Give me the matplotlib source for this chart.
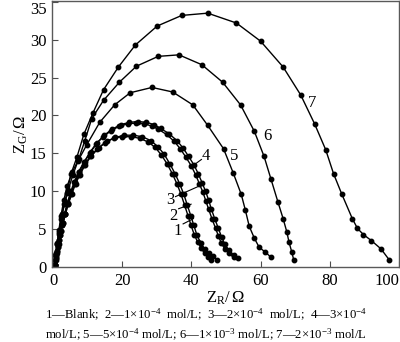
import matplotlib

matplotlib.use("Agg")
import matplotlib.pyplot as plt

plt.rcParams["font.family"] = ["Liberation Serif", "DejaVu Serif"]
plt.rcParams["mathtext.fontset"] = "custom"
plt.rcParams["mathtext.rm"] = "Liberation Serif"
plt.rcParams["mathtext.it"] = "Liberation Serif:italic"

# ---- data (Z_R, Z_G in ohm) ----
x1 = [0.5, 0.7, 1.0, 1.3, 1.7, 2.2, 2.8, 3.5, 4.3, 5.2, 6.3, 7.5, 9.0, 10.8, 12.8,
      15.0, 17.5, 20.0, 22.5, 25.0, 27.5, 29.5, 31.3, 33.0, 34.5, 35.8, 37.0, 38.0,
      39.0, 39.9, 40.8, 41.8, 42.8, 43.8, 44.8, 45.8]
y1 = [0.3, 1.0, 1.8, 2.7, 3.6, 4.7, 5.8, 7.0, 8.3, 9.6, 11.0, 12.2, 13.5, 14.6, 15.6,
      16.4, 17.0, 17.2, 17.2, 17.0, 16.5, 15.8, 14.8, 13.6, 12.3, 11.0, 9.6, 8.2,
      6.8, 5.5, 4.3, 3.3, 2.5, 1.8, 1.3, 0.9]

x2 = [0.6, 0.8, 1.1, 1.4, 1.8, 2.3, 2.9, 3.6, 4.4, 5.4, 6.5, 7.8, 9.3, 11.1, 13.2,
      15.5, 18.0, 20.6, 23.2, 25.8, 28.2, 30.3, 32.1, 33.8, 35.3, 36.6, 37.8, 38.8,
      39.8, 40.7, 41.6, 42.7, 43.8, 45.0, 46.2, 47.4]
y2 = [0.3, 1.0, 1.8, 2.7, 3.6, 4.7, 5.8, 7.0, 8.3, 9.6, 11.0, 12.2, 13.5, 14.7, 15.7,
      16.6, 17.1, 17.4, 17.4, 17.2, 16.7, 15.9, 14.9, 13.6, 12.3, 11.0, 9.6, 8.2,
      6.8, 5.5, 4.2, 3.2, 2.4, 1.8, 1.4, 1.0]

x3 = [0.5, 0.8, 1.1, 1.5, 2.0, 2.6, 3.3, 4.1, 5.0, 6.1, 7.4, 8.9, 10.6, 12.5, 14.5,
      16.8, 19.2, 21.6, 24.0, 26.4, 28.6, 30.4, 32.8, 35.0, 36.8, 38.4, 39.9, 41.2,
      42.3, 43.3, 44.2, 45.0, 46.0, 47.0, 47.8, 48.6, 49.6, 50.8, 52.2]
y3 = [0.3, 1.2, 2.1, 3.1, 4.3, 5.6, 7.0, 8.4, 9.8, 11.2, 12.6, 13.8, 15.1, 16.3, 17.2,
      18.0, 18.6, 18.9, 19.0, 18.9, 18.6, 18.2, 17.5, 16.6, 15.6, 14.5, 13.4, 12.2,
      11.0, 9.9, 8.7, 7.6, 6.3, 5.1, 4.1, 3.2, 2.4, 1.8, 1.3]

x4 = [0.6, 0.9, 1.2, 1.6, 2.1, 2.7, 3.4, 4.2, 5.2, 6.3, 7.6, 9.1, 10.9, 12.8, 14.8,
      17.1, 19.6, 22.1, 24.6, 27.0, 29.2, 31.1, 33.5, 35.8, 37.6, 39.2, 40.7, 42.0,
      43.1, 44.1, 45.0, 45.8, 46.8, 47.8, 48.7, 49.6, 50.8, 52.2, 53.6]
y4 = [0.3, 1.2, 2.1, 3.1, 4.3, 5.6, 7.0, 8.4, 9.8, 11.2, 12.6, 13.9, 15.2, 16.4, 17.4,
      18.2, 18.8, 19.1, 19.2, 19.1, 18.8, 18.3, 17.6, 16.7, 15.7, 14.6, 13.5, 12.3,
      11.1, 10.0, 8.8, 7.6, 6.3, 5.1, 4.0, 3.1, 2.2, 1.6, 1.2]

x5 = [0.5, 0.8, 1.2, 1.7, 2.4, 3.3, 4.4, 5.7, 7.2, 9.7, 13.5, 17.8, 22.3, 28.6, 34.6,
      40.4, 44.7, 49.3, 52.1, 54.4, 55.6, 56.7, 58.2, 59.6, 61.3, 63.0]
y5 = [0.3, 1.5, 3.0, 4.6, 6.4, 8.3, 10.2, 12.1, 14.0, 16.1, 19.1, 21.4, 23.0, 23.7, 23.1,
      21.4, 18.7, 15.6, 12.4, 9.6, 7.5, 5.4, 3.8, 2.6, 2.0, 1.3]

x6 = [0.5, 0.8, 1.2, 1.7, 2.3, 3.1, 4.1, 5.5, 7.4, 9.2, 11.2, 14.6, 19.2, 24.1, 30.4,
      36.4, 43.0, 49.0, 54.2, 58.2, 61.0, 63.0, 65.0, 66.5, 67.6, 68.2, 69.0, 69.6]
y6 = [0.3, 1.6, 3.2, 4.9, 6.8, 8.8, 10.7, 12.5, 14.2, 16.7, 19.6, 22.0, 24.4, 26.5, 27.8,
      28.0, 26.7, 24.4, 21.4, 17.9, 14.6, 11.6, 8.6, 6.4, 4.6, 3.3, 2.0, 0.9]

x7 = [0.4, 0.7, 1.1, 1.7, 2.6, 4.0, 5.2, 6.9, 8.9, 11.5, 14.6, 18.9, 23.8, 30.1, 37.2,
      44.7, 53.0, 60.0, 66.5, 71.6, 75.6, 78.8, 81.1, 83.4, 86.5, 88.0, 89.7, 92.0,
      94.8, 97.1]
y7 = [0.3, 1.6, 3.0, 4.4, 7.0, 9.8, 12.3, 14.5, 17.5, 20.3, 23.4, 26.4, 29.3, 31.8, 33.2,
      33.5, 32.2, 29.8, 26.4, 22.7, 18.9, 15.5, 12.3, 9.7, 6.4, 5.1, 4.3, 3.5,
      2.4, 1.0]

curves = [(x1, y1), (x2, y2), (x3, y3), (x4, y4), (x5, y5), (x6, y6), (x7, y7)]

caption = (
    "1\u2014Blank;  2\u20141\u00d710$^{-4}$  mol/L;  3\u20142\u00d710$^{-4}$  mol/L;  "
    "4\u20143\u00d710$^{-4}$\n"
    "mol/L; 5\u20145\u00d710$^{-4}$ mol/L; 6\u20141\u00d710$^{-3}$ mol/L; "
    "7\u20142\u00d710$^{-3}$ mol/L"
)

fig = plt.figure(figsize=(4.0, 3.42), dpi=100)
ax = fig.add_axes([0.13, 0.219, 0.8675, 0.778])

for xs, ys in curves:
    ax.plot(xs, ys, "-o", color="black", lw=1.0, ms=3.2)

# curve numbers (1-4 with short leader lines)
ax.text(36.1, 4.7, "1", fontsize=12, ha="center", va="center")
ax.text(34.7, 6.8, "2", fontsize=12, ha="center", va="center")
ax.text(33.8, 8.8, "3", fontsize=12, ha="center", va="center")
ax.text(44.2, 14.6, "4", fontsize=12, ha="center", va="center")
ax.plot([37.6, 40.6], [5.7, 6.4], color="black", lw=0.8)
ax.plot([36.3, 39.9], [7.7, 8.3], color="black", lw=0.8)
ax.plot([35.4, 41.8], [9.3, 10.6], color="black", lw=0.8)
ax.plot([40.8, 42.9], [13.5, 14.2], color="black", lw=0.8)
ax.text(52.3, 14.6, "5", fontsize=12, ha="center", va="center")
ax.text(62.0, 17.3, "6", fontsize=12, ha="center", va="center")
ax.text(74.9, 21.6, "7", fontsize=12, ha="center", va="center")

ax.set_xlim(-0.3, 100)
ax.set_ylim(0, 35.1)
ax.set_xticks([0, 20, 40, 60, 80, 100])
ax.set_yticks([0, 5, 10, 15, 20, 25, 30, 35])
ax.tick_params(direction="in", length=4, width=0.8, labelsize=12, pad=4,
               color="0.3")
for s in ax.spines.values():
    s.set_color("0.35")
    s.set_linewidth(1.0)

# keep the end labels inside the figure, as in the original
ax.get_yticklabels()[-1].set_va("top")
ax.get_xticklabels()[-1].set_ha("right")

ax.set_xlabel(r"$\mathrm{Z_R}/\,\Omega$", fontsize=12, labelpad=1)
ax.set_ylabel(r"$\mathrm{Z_G}/\,\Omega$", fontsize=12, labelpad=0)

fig.text(0.1125, 0.05, caption, fontsize=9.2, ha="left", va="center",
         linespacing=1.3)

fig.savefig("out.png", dpi=100)
